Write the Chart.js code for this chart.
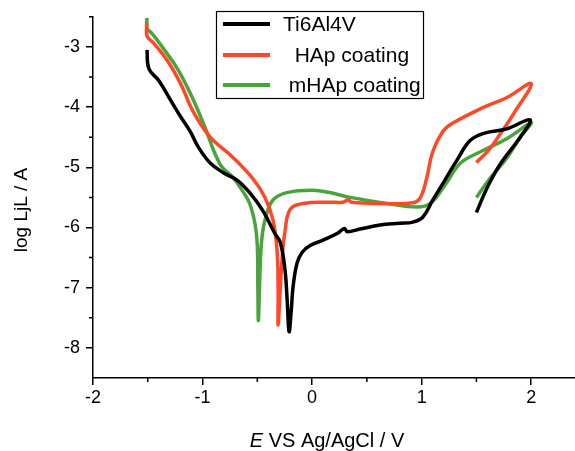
<!DOCTYPE html>
<html lang="en">
<head>
    <meta charset="UTF-8">
    <title>Tafel plot</title>
    <script src="https://cdn.jsdelivr.net/npm/chart.js@4.4.1/dist/chart.umd.min.js"></script>
    <style>
        body { margin: 0; background: #fff; }
    </style>
</head>
<body>
    <canvas id="tafel" width="575" height="451"></canvas>

    <script>
        // series names (spaces kept as in the original legend)
        const seriesNames = ['Ti6Al4V', '  HAp coating', ' mHAp coating'];
        const seriesColors = ['#000000', 'rgb(255,72,40)', 'rgb(74,164,60)'];

        // Ti6Al4V
        const tiX = [-1.507, -1.49, -1.40, -1.30, -1.20, -1.114, -1.04, -0.93, -0.81, -0.68, -0.566, -0.45, -0.34, -0.29, -0.247, -0.228, -0.21,
            -0.19, -0.174, -0.137, -0.09, -0.018, 0.10, 0.228, 0.28, 0.30, 0.32, 0.45, 0.62, 0.80, 0.92, 1.01, 1.10, 1.21, 1.32, 1.44, 1.56, 1.78, 1.99,
            1.90, 1.72, 1.60, 1.50];
        const tiY = [-3.05, -3.36, -3.56, -3.86, -4.16, -4.40, -4.66, -4.93, -5.09, -5.22, -5.43, -5.72, -6.10, -6.25, -6.71, -7.20, -7.73,
            -7.37, -6.99, -6.59, -6.41, -6.30, -6.21, -6.10, -6.03, -6.02, -6.07, -6.02, -5.96, -5.93, -5.91, -5.83, -5.55, -5.22, -4.89, -4.56, -4.44, -4.36, -4.21,
            -4.50, -4.94, -5.33, -5.75];

        // HAp coating
        const hapX = [-1.507, -1.507, -1.45, -1.32, -1.20, -1.09, -0.93, -0.72, -0.54, -0.43, -0.356, -0.32, -0.31, -0.31,
            -0.29, -0.27, -0.25, -0.2, -0.08, 0.16, 0.28, 0.33, 0.36, 0.65, 0.92, 0.99, 1.05, 1.10, 1.20, 1.29, 1.56, 1.78, 2.00,
            1.84, 1.72, 1.61, 1.50];
        const hapY = [-2.60, -2.82, -2.93, -3.23, -3.61, -4.06, -4.50, -4.84, -5.19, -5.50, -5.88, -6.38, -7.00, -7.62,
            -6.99, -6.43, -6.10, -5.70, -5.60, -5.58, -5.58, -5.54, -5.58, -5.60, -5.59, -5.50, -5.15, -4.75, -4.39, -4.26, -4.01, -3.84, -3.61,
            -4.11, -4.44, -4.72, -4.92];

        // mHAp coating
        const mhapX = [-1.507, -1.507, -1.46, -1.36, -1.23, -1.11, -0.99, -0.84, -0.72, -0.64, -0.57, -0.52, -0.50, -0.495, -0.49,
            -0.475, -0.46, -0.43, -0.36, -0.23, 0.01, 0.16, 0.35, 0.68, 0.96, 1.08, 1.20, 1.32, 1.38, 1.56, 1.78, 2.00,
            1.90, 1.78, 1.63, 1.50];
        const mhapY = [-2.52, -2.69, -2.78, -3.02, -3.36, -3.78, -4.28, -4.95, -5.17, -5.38, -5.60, -5.95, -6.30, -7.00, -7.54,
            -6.71, -6.21, -5.88, -5.55, -5.42, -5.38, -5.42, -5.50, -5.60, -5.66, -5.60, -5.33, -5.00, -4.89, -4.72, -4.52, -4.26,
            -4.50, -4.84, -5.17, -5.50];

        const xTicks = [-2, -1, 0, 1, 2];
        const yTicks = [-8, -7, -6, -5, -4, -3];
        const xMinor = [-1.5, -0.5, 0.5, 1.5];
        const yMinor = [-7.5, -6.5, -5.5, -4.5, -3.5, -2.5];

        function toPoints(xs, ys) {
            return xs.map((x, i) => ({ x: x, y: ys[i] }));
        }

        const seriesData = [toPoints(tiX, tiY), toPoints(hapX, hapY), toPoints(mhapX, mhapY)];

        // minor ticks, axis titles and the boxed legend
        const extras = {
            id: 'extras',
            afterDraw(chart) {
                const { ctx, chartArea, scales: { x, y } } = chart;
                ctx.save();
                ctx.strokeStyle = '#000';
                ctx.lineWidth = 1.5;
                ctx.beginPath();
                xMinor.forEach(v => {
                    const px = x.getPixelForValue(v);
                    ctx.moveTo(px, chartArea.bottom);
                    ctx.lineTo(px, chartArea.bottom + 4);
                });
                yMinor.forEach(v => {
                    const py = y.getPixelForValue(v);
                    ctx.moveTo(chartArea.left, py);
                    ctx.lineTo(chartArea.left - 4, py);
                });
                ctx.stroke();

                // x title with italic E
                ctx.fillStyle = '#000';
                ctx.textBaseline = 'alphabetic';
                ctx.textAlign = 'left';
                const italic = 'italic 20px "Liberation Sans", Arial, sans-serif';
                const normal = '20px "Liberation Sans", Arial, sans-serif';
                ctx.font = italic;
                const wE = ctx.measureText('E').width;
                ctx.font = normal;
                const rest = ' VS Ag/AgCl / V';
                const wR = ctx.measureText(rest).width;
                const startX = 327 - (wE + wR) / 2;
                ctx.font = italic;
                ctx.fillText('E', startX, 447);
                ctx.font = normal;
                ctx.fillText(rest, startX + wE, 447);

                // y title
                ctx.save();
                ctx.translate(27, 210);
                ctx.rotate(-Math.PI / 2);
                ctx.textAlign = 'center';
                ctx.font = '19px "Liberation Sans", Arial, sans-serif';
                ctx.fillText('log LjL / A', 0, 0);
                ctx.restore();

                // legend box
                ctx.fillStyle = '#fff';
                ctx.fillRect(216.5, 11.5, 207, 87);
                ctx.lineWidth = 1.2;
                ctx.strokeRect(216.5, 11.5, 207, 87);
                const rowY = [24, 55, 85];
                ctx.font = '21px "Liberation Sans", Arial, sans-serif';
                ctx.textAlign = 'left';
                ctx.textBaseline = 'middle';
                seriesNames.forEach((name, i) => {
                    ctx.strokeStyle = seriesColors[i];
                    ctx.lineWidth = 4;
                    ctx.beginPath();
                    ctx.moveTo(223, rowY[i]);
                    ctx.lineTo(270, rowY[i]);
                    ctx.stroke();
                    ctx.fillStyle = '#000';
                    ctx.fillText(name, 283, rowY[i] + 1);
                });
                ctx.restore();
            }
        };

        const tafel = new Chart(document.getElementById('tafel'), {
            type: 'line',
            data: {
                datasets: seriesNames.map((name, i) => ({
                    label: name,
                    data: seriesData[i],
                    borderColor: seriesColors[i],
                    borderWidth: 3.5,
                    pointRadius: 0,
                    tension: 0.4,
                    fill: false
                }))
            },
            options: {
                responsive: false,
                animation: false,
                devicePixelRatio: 1,
                layout: { padding: { top: 15, right: 0, left: 0, bottom: 0 } },
                plugins: {
                    legend: { display: false },
                    tooltip: { enabled: false }
                },
                scales: {
                    x: {
                        type: 'linear',
                        min: -2,
                        max: 2.4,
                        afterFit: s => { s.height = 73; },
                        afterBuildTicks: s => { s.ticks = xTicks.map(v => ({ value: v })); },
                        grid: { drawOnChartArea: false, drawTicks: true, tickLength: 7, color: '#000', lineWidth: 1.5 },
                        border: { display: true, color: '#000', width: 1.5 },
                        ticks: {
                            color: '#000',
                            padding: 2,
                            maxRotation: 0,
                            font: { family: '"Liberation Sans", Arial, sans-serif', size: 18 }
                        }
                    },
                    y: {
                        type: 'linear',
                        min: -8.5,
                        max: -2.5,
                        afterFit: s => { s.width = 93; },
                        afterBuildTicks: s => { s.ticks = yTicks.map(v => ({ value: v })); },
                        grid: { drawOnChartArea: false, drawTicks: true, tickLength: 7, color: '#000', lineWidth: 1.5 },
                        border: { display: true, color: '#000', width: 1.5 },
                        ticks: {
                            color: '#000',
                            padding: 6,
                            font: { family: '"Liberation Sans", Arial, sans-serif', size: 18 }
                        }
                    }
                }
            },
            plugins: [extras]
        });
    </script>
</body>
</html>
